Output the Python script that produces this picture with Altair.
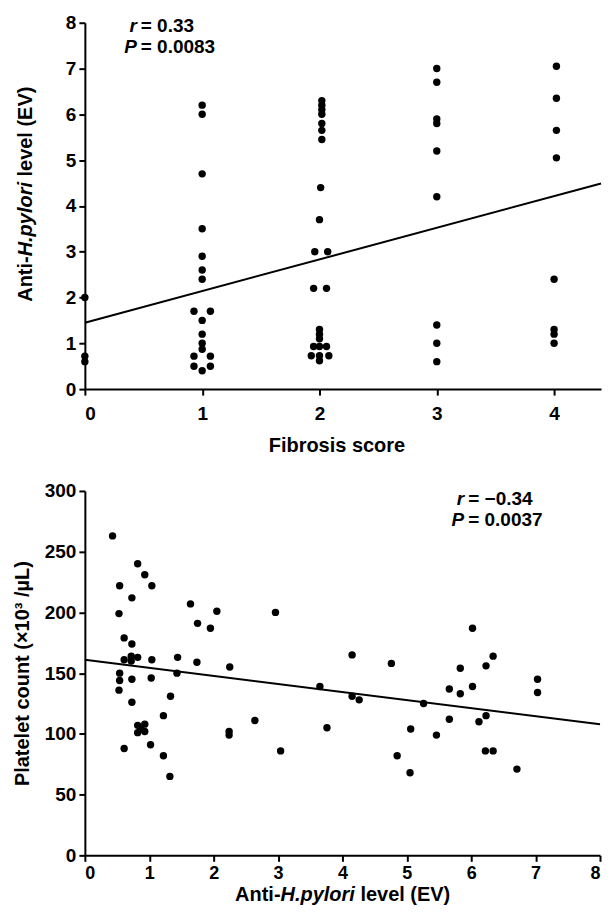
import altair as alt
import pandas as pd

FONT = "Liberation Sans"

# ---------------- Panel A: fibrosis score vs anti-H.pylori level ----------------
fibrosis = [0, 0, 0,
            1, 1, 1, 1, 1, 1, 1, 0.93, 1.07, 1, 1, 1, 1, 0.93, 1.07, 0.93, 1.07, 1,
            2.02, 2.02, 2.02, 2.02, 2.02, 2.02, 2.02, 2.01, 2.0, 1.96, 2.07, 1.95, 2.06,
            2.0, 2.0, 2.0, 1.95, 2.0, 2.06, 1.93, 2.0, 2.08, 2.0,
            3, 3, 3, 3, 3, 3, 3, 3, 3,
            4.02, 4.02, 4.02, 4.02, 4.0, 4.0, 4.0, 4.0]
hp_level_a = [2.0, 0.72, 0.6,
              6.2, 6.0, 4.7, 3.5, 2.9, 2.6, 2.4, 1.7, 1.7, 1.5, 1.2, 1.0, 0.87, 0.72, 0.72, 0.5, 0.5, 0.4,
              6.3, 6.2, 6.1, 6.0, 5.8, 5.65, 5.45, 4.4, 3.7, 3.0, 3.0, 2.2, 2.2,
              1.3, 1.2, 1.1, 0.93, 0.93, 0.93, 0.73, 0.73, 0.73, 0.62,
              7.0, 6.7, 5.9, 5.8, 5.2, 4.2, 1.4, 1.0, 0.6,
              7.05, 6.35, 5.65, 5.05, 2.4, 1.3, 1.2, 1.0]
fit_a_x = [0, 4.4]
fit_a_y = [1.45, 4.49]
ticks_a_x = [0, 1, 2, 3, 4]
ticks_a_y = [0, 1, 2, 3, 4, 5, 6, 7, 8]

# ---------------- Panel B: anti-H.pylori level vs platelet count ----------------
hp_level_b = [0.43, 0.54, 0.53, 0.82, 0.93, 1.04, 0.73, 0.61, 0.73, 0.61,
              0.72, 0.82, 0.72, 1.04, 0.54, 0.54, 0.53, 0.73, 1.03, 0.73,
              0.82, 0.93, 0.82, 0.93, 0.87, 0.61, 1.02, 1.22, 1.32, 1.22,
              1.33, 1.44, 1.43, 1.64, 1.75, 1.95, 2.05, 1.74, 2.25, 2.24,
              2.24, 2.64, 2.96, 3.04, 3.65, 3.76, 4.15, 4.15, 4.26, 4.76,
              4.85, 5.06, 5.05, 5.26, 5.46, 5.66, 5.66, 5.83, 5.83, 6.02,
              6.02, 6.12, 6.23, 6.23, 6.34, 6.22, 6.34, 6.71, 7.03, 7.03]
platelet = [263, 222, 199, 240, 231, 222, 212, 179, 174, 161,
            164, 163, 160, 161, 150, 144, 136, 145, 146, 126,
            107, 108, 101, 102, 104, 88, 91, 82, 65, 115,
            131, 163, 150, 207, 191, 187, 201, 159, 155, 102,
            99, 111, 200, 86, 139, 105, 165, 131, 128, 158,
            82, 104, 68, 125, 99, 137, 112, 154, 133, 187,
            139, 110, 115, 156, 164, 86, 86, 71, 145, 134]
fit_b_x = [0, 8]
fit_b_y = [161, 108]
ticks_b_x = [0, 1, 2, 3, 4, 5, 6, 7, 8]
ticks_b_y = [0, 50, 100, 150, 200, 250, 300]

# ---------------- Text ----------------
title_parts = ["Anti-", "H.pylori", "level (EV)"]
x_title_a = "Fibrosis score"
y_title_b = "Platelet count (\u00d710\u00b3 /\u00b5L)"
annot_a = ["r", "= 0.33", "P", "= 0.0083"]
annot_b = ["r", "= \u22120.34", "P", "= 0.0037"]

LABEL = dict(labelFont=FONT, labelFontSize=19, labelFontWeight="bold", labelColor="black")
TITLE = dict(titleFont=FONT, titleFontSize=20, titleFontWeight="bold", titleColor="black")


def txt(s, x, y, align, style="normal", angle=0, baseline="alphabetic", size=20):
    return alt.Chart(pd.DataFrame({"t": [s]})).mark_text(
        align=align, baseline=baseline, angle=angle, font=FONT, fontSize=size,
        fontWeight="bold", fontStyle=style, color="black"
    ).encode(text="t:N", x=alt.value(x), y=alt.value(y))


# ---------------- Panel A chart ----------------
df_a = pd.DataFrame({"score": fibrosis, "level": hp_level_a})
fit_a = pd.DataFrame({"score": fit_a_x, "level": fit_a_y})
xa = alt.Scale(domain=[0, 4.4], nice=False, zero=False)
ya = alt.Scale(domain=[0, 8], nice=False)

pts_a = alt.Chart(df_a).mark_circle(size=55, color="black", opacity=1).encode(
    x=alt.X("score:Q", scale=xa,
            axis=alt.Axis(values=ticks_a_x, format="d", title=x_title_a,
                          titleX=252, titleY=62, titleBaseline="alphabetic",
                          titleAlign="center", labelPadding=9, **LABEL, **TITLE)),
    y=alt.Y("level:Q", scale=ya,
            axis=alt.Axis(values=ticks_a_y, format="d", title=None, labelPadding=3, **LABEL)),
)
line_a = alt.Chart(fit_a).mark_line(color="black", strokeWidth=2).encode(
    x=alt.X("score:Q", scale=xa), y=alt.Y("level:Q", scale=ya))

ya_t1 = txt(title_parts[0], -59, 234, "right", angle=270, baseline="middle")
ya_t2 = txt(title_parts[1], -59, 234, "left", style="italic", angle=270, baseline="middle")
ya_t3 = txt(title_parts[2], -59, 154, "left", angle=270, baseline="middle")
an_a1 = txt(annot_a[0], 52, 9, "right", style="italic", size=19)
an_a2 = txt(annot_a[1], 56, 9, "left", size=19)
an_a3 = txt(annot_a[2], 52, 30, "right", style="italic", size=19)
an_a4 = txt(annot_a[3], 56, 30, "left", size=19)

chart_a = alt.layer(pts_a, line_a, ya_t1, ya_t2, ya_t3, an_a1, an_a2, an_a3, an_a4).properties(
    width=517, height=367)

# ---------------- Panel B chart ----------------
df_b = pd.DataFrame({"hp": hp_level_b, "plt": platelet})
fit_b = pd.DataFrame({"hp": fit_b_x, "plt": fit_b_y})
xb = alt.Scale(domain=[0, 8], nice=False, zero=False)
yb = alt.Scale(domain=[0, 300], nice=False)

pts_b = alt.Chart(df_b).mark_circle(size=55, color="black", opacity=1).encode(
    x=alt.X("hp:Q", scale=xb,
            axis=alt.Axis(values=ticks_b_x, format="d", title=None, labelPadding=3,
                          labelFont=FONT, labelFontSize=18, labelFontWeight="bold",
                          labelColor="black")),
    y=alt.Y("plt:Q", scale=yb,
            axis=alt.Axis(values=ticks_b_y, format="d", title=y_title_b,
                          titleX=-62, titleAngle=270, titleBaseline="middle",
                          titleAlign="center", labelPadding=3, **LABEL, **TITLE)),
)
line_b = alt.Chart(fit_b).mark_line(color="black", strokeWidth=2).encode(
    x=alt.X("hp:Q", scale=xb), y=alt.Y("plt:Q", scale=yb))

xb_t1 = txt(title_parts[0], 196, 411, "right")
xb_t2 = txt(title_parts[1], 196, 411, "left", style="italic")
xb_t3 = txt(title_parts[2], 276, 411, "left")
an_b1 = txt(annot_b[0], 380, 14, "right", style="italic", size=19)
an_b2 = txt(annot_b[1], 384, 14, "left", size=19)
an_b3 = txt(annot_b[2], 380, 35, "right", style="italic", size=19)
an_b4 = txt(annot_b[3], 384, 35, "left", size=19)

chart_b = alt.layer(pts_b, line_b, xb_t1, xb_t2, xb_t3, an_b1, an_b2, an_b3, an_b4).properties(
    width=516, height=365)

chart = alt.vconcat(chart_a, chart_b, spacing=27).properties(
    padding={"left": 5, "top": 5, "right": 0, "bottom": 1},
    background="white",
).configure_axis(
    domainColor="black", domainWidth=2, tickColor="black", tickWidth=2, tickSize=6,
    grid=False,
).configure_view(stroke=None)

chart.save("out.html", embed_options={"renderer": "svg", "actions": False})
